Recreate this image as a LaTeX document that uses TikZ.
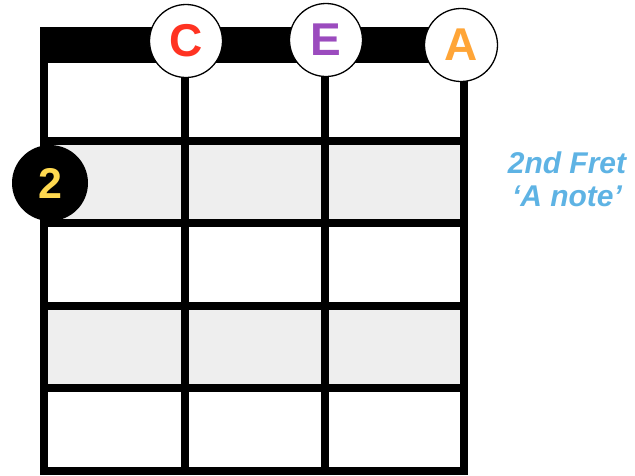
\documentclass[tikz,border=0pt]{standalone}
\usepackage{fontspec}
\setmainfont{Liberation Sans}
\usepackage{tikz}
\usetikzlibrary{positioning}
\definecolor{noteC}{RGB}{255,51,34}
\definecolor{noteE}{RGB}{155,75,190}
\definecolor{noteA}{RGB}{255,165,55}
\definecolor{fretNum}{RGB}{255,217,80}
\definecolor{fretTxt}{RGB}{94,179,228}
\definecolor{rowShade}{RGB}{238,238,238}
\begin{document}
\begin{tikzpicture}[x=1pt, y=-1pt,
  fretline/.style={line width=8.5pt},
  stringline/.style={line width=8.5pt},
  opennote/.style={circle, draw, line width=1.3pt, fill=white, minimum size=73pt, inner sep=0pt, font=\bfseries\fontsize{46}{46}\selectfont},
  fretdot/.style={circle, fill=black, minimum size=76pt, inner sep=0pt, text=fretNum, font=\bfseries\fontsize{43}{43}\selectfont},
  fretlabel/.style={text=fretTxt, inner sep=0pt, font=\bfseries\itshape\fontsize{30}{30}\selectfont}
]
  \useasboundingbox (0,0) rectangle (635,475);
  % shaded rows
  \fill[rowShade] (44,141) rectangle (464,223);
  \fill[rowShade] (44,306) rectangle (464,388);
  % frets
  \foreach \y in {141,223,306,388,471}
    \draw[fretline] (40,\y) -- (468,\y);
  % strings
  \foreach \x in {44,185,325,464}
    \draw[stringline] (\x,30) -- (\x,475);
  % nut
  \fill (40,27) rectangle (468,63);
  % open string notes
  \node[opennote, text=noteC] (noteC) at (186,41) {C};
  \node[opennote, text=noteE] (noteE) at (326,40) {E};
  \node[opennote, text=noteA] (noteA) at (461,45) {A};
  % fret number
  \node[fretdot] (fret2) at (50,183) {2};
  \node[fretlabel, anchor=base] (fretName) at (567,173) {2nd Fret};
  \node[fretlabel, anchor=base] (fretNote) at (567,206) {‘A note’};
\end{tikzpicture}
\end{document}
